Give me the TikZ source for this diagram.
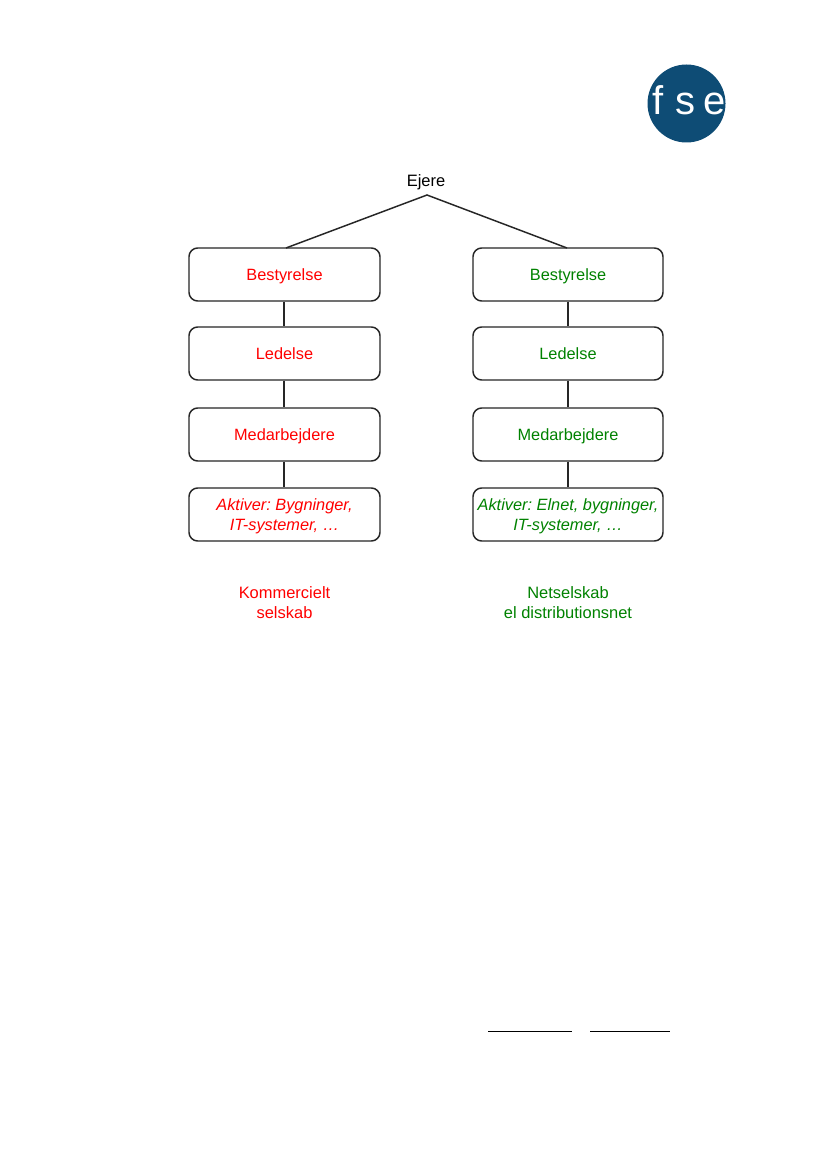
\documentclass[tikz,border=0pt]{standalone}
\usepackage{fontspec}
\setmainfont{Liberation Sans}
\definecolor{redtxt}{RGB}{255,0,0}
\definecolor{greentxt}{RGB}{0,130,0}
\definecolor{logoblue}{RGB}{14,76,117}
\tikzset{
  orgbox/.style={draw=black!85,line width=1.1pt,rounded corners=6.5pt,minimum height=39.75pt,inner sep=0pt,align=center,font=\frenchspacing\fontsize{12.25}{15}\selectfont},
  oneline/.style={text height=8.85pt,text depth=0pt},
  leftbox/.style={orgbox,minimum width=143.25pt,text=redtxt},
  rightbox/.style={orgbox,minimum width=142.5pt,text=greentxt},
  link/.style={draw=black!85,line width=1.1pt},
  caption/.style={align=center,font=\fontsize{12.35}{14.6}\selectfont},
  logoletter/.style={text=white,inner sep=0pt,font=\fontsize{30}{30}\selectfont},
  rule/.style={draw=black,line width=1.1pt}
}
\begin{document}
\begin{tikzpicture}[x=0.75pt,y=-0.75pt]
\useasboundingbox (0,0) rectangle (826,1169);
\fill[white] (0,0) rectangle (826,1169);
% logo
\node[circle,fill=logoblue,minimum size=58.5pt,inner sep=0pt] (logo) at (686.5,103.5) {};
\node[logoletter,anchor=base] (lf) at (658.5,115) {f};
\node[logoletter,anchor=base] (ls) at (685,115) {s};
\node[logoletter,anchor=base] (le) at (714.5,115) {e};
% owners
\node[inner sep=0pt,oneline,font=\fontsize{12.35}{15}\selectfont] (ejere) at (426,180.5) {Ejere};
\coordinate (apex) at (427,195);
\coordinate (apexl) at (286,248);
\coordinate (apexr) at (567,248);
% left column
\node[leftbox,oneline] (lb) at (284.5,274.5) {Bestyrelse};
\node[leftbox,oneline] (ll) at (284.5,353.5) {Ledelse};
\node[leftbox,oneline] (lm) at (284.5,434.5) {Medarbejdere};
\node[leftbox,label={[align=center,text=redtxt,inner sep=0pt,yshift=-1.5pt,font=\frenchspacing\itshape\fontsize{12.25}{15}\selectfont]center:{Aktiver: Bygninger,\\IT-systemer, …}}] (la) at (284.5,514.5) {};
% right column
\node[rightbox,oneline] (rb) at (568,274.5) {Bestyrelse};
\node[rightbox,oneline] (rl) at (568,353.5) {Ledelse};
\node[rightbox,oneline] (rm) at (568,434.5) {Medarbejdere};
\node[rightbox,label={[align=center,text=greentxt,inner sep=0pt,yshift=-1.5pt,font=\frenchspacing\itshape\fontsize{12.25}{15}\selectfont]center:{Aktiver: Elnet, bygninger,\\IT-systemer, …}}] (ra) at (568,514.5) {};
% connectors
\draw[link] (apexl) -- (apex) -- (apexr);
\draw[link] ([xshift=-0.375pt]lb.south) -- ([xshift=-0.375pt]ll.north);
\draw[link] ([xshift=-0.375pt]ll.south) -- ([xshift=-0.375pt]lm.north);
\draw[link] ([xshift=-0.375pt]lm.south) -- ([xshift=-0.375pt]la.north);
\draw[link] (rb) -- (rl);
\draw[link] (rl) -- (rm);
\draw[link] (rm) -- (ra);
% captions
\node[caption,text=redtxt] (lc) at (284.5,602.5) {Kommercielt\\selskab};
\node[caption,text=greentxt] (rc) at (568,602.5) {Netselskab\\el distributionsnet};
% signature rules
\coordinate (s1a) at (488,1031.5);
\coordinate (s1b) at (572,1031.5);
\coordinate (s2a) at (590,1031.5);
\coordinate (s2b) at (669.5,1031.5);
\draw[rule] (s1a) -- (s1b);
\draw[rule] (s2a) -- (s2b);
\end{tikzpicture}
\end{document}
